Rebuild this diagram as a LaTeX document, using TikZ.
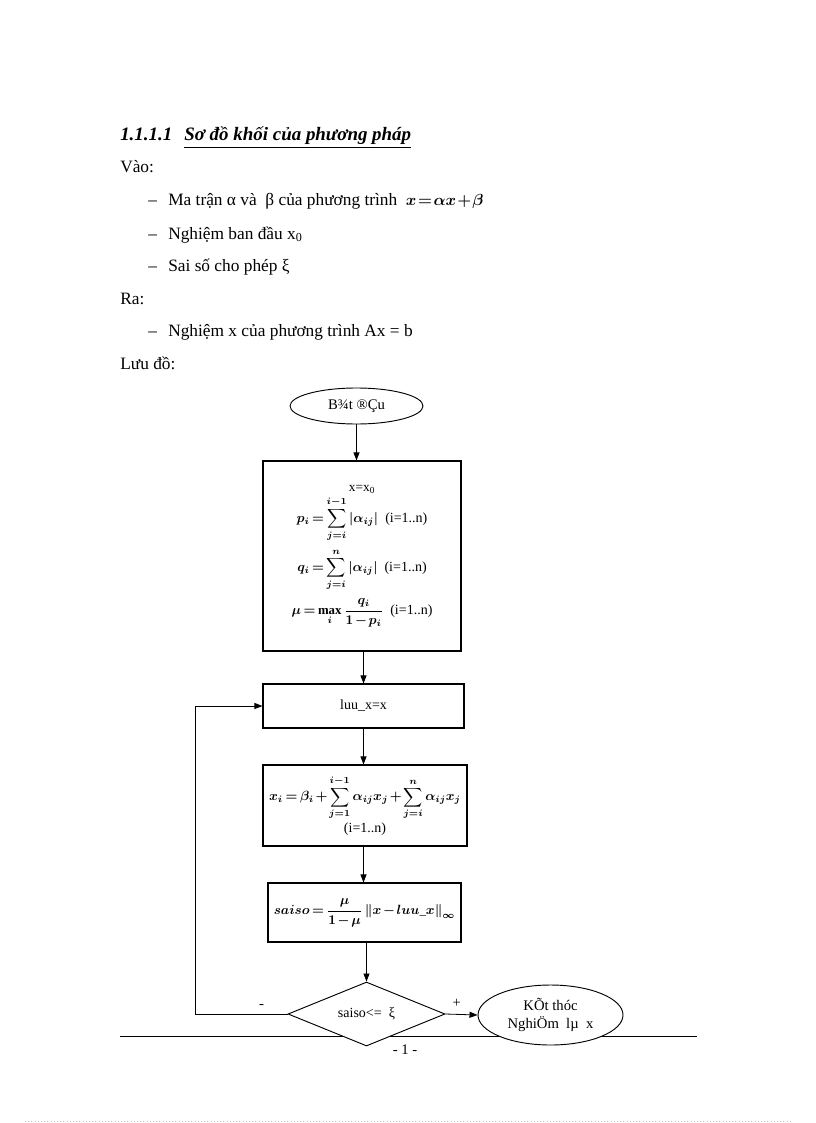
\documentclass[tikz,border=0pt]{standalone}
\usepackage{fontspec}
\setmainfont{Liberation Serif}
\usepackage{amsmath}
\usetikzlibrary{shapes.geometric,arrows.meta,calc}
\newcommand{\fm}[1]{{\fontsize{9.6}{11}\selectfont\boldmath\medmuskip=2mu\thickmuskip=3mu$\displaystyle #1$}}
\begin{document}
\begin{tikzpicture}[x=0.75pt,y=-0.75pt,
  box/.style={draw, line width=0.8pt, fill=white, inner sep=0pt, align=center,
    font=\fontsize{10.5}{12}\selectfont},
  ell/.style={draw, ellipse, line width=0.7pt, fill=white, inner sep=0pt, align=center,
    font=\fontsize{11}{14}\selectfont},
  dia/.style={draw, diamond, line width=0.7pt, fill=white, inner sep=0pt, aspect=2.4,
    font=\fontsize{10.5}{12}\selectfont},
  arr/.style={-{Triangle[length=6pt,width=4.5pt]}, line width=0.6pt},
  body/.style={anchor=base west, inner sep=0pt, font=\fontsize{13}{15}\selectfont},
  lbl/.style={inner sep=0pt, font=\fontsize{11}{13}\selectfont}]
\useasboundingbox (0,0) rectangle (816,1123);

% heading and text
\node[body, font=\fontsize{14.2}{16}\selectfont\bfseries\itshape] (h) at (120,141)
  {1.1.1.1\hspace{9pt}\underline{Sơ đồ khối của phương pháp}};
\node[body] (vao) at (120,173) {Vào:};
\node[body] (d1) at (148,205) {–};
\node[body] (t1) at (168,205) {Ma trận α và\ \ β của phương trình\ \ {\boldmath\medmuskip=1mu\thickmuskip=1.5mu$x=\alpha x+\beta$}};
\node[body] (d2) at (148,239) {–};
\node[body] (t2) at (168,239) {Nghiệm ban đầu x\textsubscript{0}};
\node[body] (d3) at (148,271) {–};
\node[body] (t3) at (168,271) {Sai số cho phép ξ};
\node[body] (ra) at (120,304) {Ra:};
\node[body] (d4) at (148,336) {–};
\node[body] (t4) at (168,336) {Nghiệm x của phương trình Ax = b};
\node[body] (luu) at (120,369) {Lưu đồ:};

% footer
\draw[line width=0.6pt] (120,1036) -- (697,1036);
\node[lbl] (pg) at (405,1050) {- 1 -};
\draw[gray!50, dotted] (25,1121) -- (792,1121);

% flowchart nodes
\node[ell, minimum width=99.75pt, minimum height=27pt] (start) at (356.5,406) {B¾t ®Çu};

\node[box, minimum width=148.5pt, minimum height=142.5pt] (b1) at (362,556)
  {{\fontsize{10}{12}\selectfont x=x\textsubscript{0}}\\[2pt]
   \fm{p_i=\sum_{j=i}^{i-1}\left|\alpha_{ij}\right|}\ \ (i=1..n)\\[5pt]
   \fm{q_i=\sum_{j=i}^{n}\left|\alpha_{ij}\right|}\ \ (i=1..n)\\[5pt]
   \fm{\mu=\max_i\frac{q_i}{1-p_i}}\ \ (i=1..n)};

\node[box, minimum width=150.75pt, minimum height=33pt] (b2) at (363.5,706) {luu\_x=x};

\node[box, minimum width=153pt, minimum height=60.75pt] (b3) at (365,805.5)
  {\fm{x_i=\beta_i+\sum_{j=1}^{i-1}\alpha_{ij}x_j+\sum_{j=i}^{n}\alpha_{ij}x_j}\\[1pt]
   (i=1..n)};

\node[box, minimum width=144.75pt, minimum height=44.25pt] (b4) at (364.5,912.5)
  {\fm{saiso=\frac{\mu}{1-\mu}\left\|x-luu\_x\right\|_\infty}};

\node[dia, minimum width=117.75pt, minimum height=48pt] (d) at (366.5,1014) {saiso<=\ \ ξ};

\node[ell, minimum width=108.75pt, minimum height=45pt] (end) at (550.5,1015)
  {KÕt thóc\\NghiÖm\ \ lµ\ \ x};

\coordinate (lp) at (195,708);

% connectors
\draw[arr] (start.south) -- (start.south |- b1.north);
\draw[arr] (b1.south -| b2.north) -- (b2.north);
\draw[arr] (b2.south) -- (b2.south |- b3.north);
\draw[arr] (b3.south -| b2.south) -- (b2.south |- b4.north);
\draw[arr] (b4.south -| d.north) -- (d.north);
\draw[arr] (d.east) -- (end.west) node[lbl, pos=0.35, above=5pt] {+};
\draw[arr] (d.west) -- (d.west -| lp) |- (b2.west);
\node[lbl, above=4pt] (minus) at ($(d.west)+(-26,0)$) {-};
\end{tikzpicture}
\end{document}
